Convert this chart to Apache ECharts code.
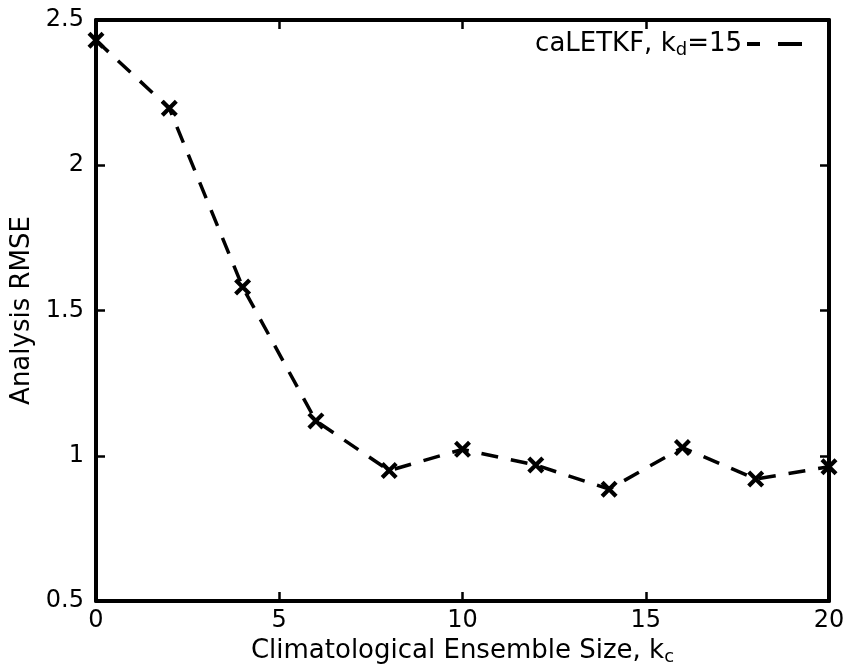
<!DOCTYPE html>
<html><head><meta charset="utf-8">
<script src="https://cdn.jsdelivr.net/npm/echarts@6/dist/echarts.min.js"></script>
<style>html,body{margin:0;padding:0;background:#fff}#c{width:855px;height:667px}</style>
</head><body><div id="c"></div>
<script>
const xValues = [0, 2, 4, 6, 8, 10, 12, 14, 16, 18, 20];
const rmseValues = [2.43, 2.196, 1.581, 1.12, 0.949, 1.022, 0.968, 0.885, 1.028, 0.92, 0.962];
const seriesName = 'caLETKF';
const xTicks = [0, 5, 10, 15, 20];
const yTicks = [0.5, 1, 1.5, 2, 2.5];

const FONT = 'DejaVu Sans';
const xMark = 'path://M0,3.5L3.5,0L20,16.5L16.5,20Z M16.5,0L20,3.5L3.5,20L0,16.5Z';
const chart = echarts.init(document.getElementById('c'));
const axisCommon = {
  axisLine: {show: true, onZero: false, lineStyle: {color: '#000', width: 4}},
  axisTick: {show: true, inside: true, length: 9, lineStyle: {color: '#000', width: 2.5}},
  splitLine: {show: false}
};
const subRich = {
  a: {fontFamily: FONT, fontSize: 26, color: '#000'},
  b: {fontFamily: FONT, fontSize: 18, color: '#000', padding: [12, 0, 0, 0]}
};
chart.setOption({
  animation: false,
  textStyle: {fontFamily: FONT},
  grid: {left: 96, right: 26, top: 20, bottom: 66, containLabel: false, outerBoundsMode: 'none'},
  legend: {
    show: true, right: 48, top: 26, align: 'right',
    icon: 'path://M0,0h13v4h-13z M31,0h24v4h-24z',
    itemWidth: 55, itemHeight: 4,
    formatter: () => '{a|caLETKF, k}{b|d}{a|=15}',
    textStyle: {fontFamily: FONT, color: '#000', rich: subRich},
    itemStyle: {color: '#000'}
  },
  xAxis: [{
    type: 'value', min: 0, max: 20, interval: 5, position: 'bottom',
    ...axisCommon,
    axisLabel: {color: '#000', fontSize: 24, fontFamily: FONT, margin: 8,
      formatter: v => xTicks.includes(v) ? String(v) : ''},
    name: '{a|Climatological Ensemble Size, k}{b|c}',
    nameLocation: 'middle', nameGap: 33,
    nameTextStyle: {rich: subRich}
  }, {
    type: 'value', min: 0, max: 20, interval: 5, position: 'top',
    ...axisCommon, axisLabel: {show: false}
  }],
  yAxis: [{
    type: 'value', min: 0.5, max: 2.5, interval: 0.5, position: 'left',
    ...axisCommon,
    axisLabel: {color: '#000', fontSize: 24, fontFamily: FONT, margin: 12,
      formatter: v => yTicks.includes(v) ? String(v) : ''},
    name: 'Analysis RMSE', nameLocation: 'middle', nameGap: 60,
    nameTextStyle: {fontFamily: FONT, fontSize: 26, color: '#000'}
  }, {
    type: 'value', min: 0.5, max: 2.5, interval: 0.5, position: 'right',
    ...axisCommon, axisLabel: {show: false}
  }],
  series: [{
    name: seriesName, type: 'line', clip: false,
    data: xValues.map((x, i) => [x, rmseValues[i]]),
    symbol: xMark, symbolSize: 17,
    itemStyle: {color: '#000'},
    lineStyle: {color: '#000', width: 3.5, type: [17, 13]},
    z: 5
  }]
});
</script></body></html>
